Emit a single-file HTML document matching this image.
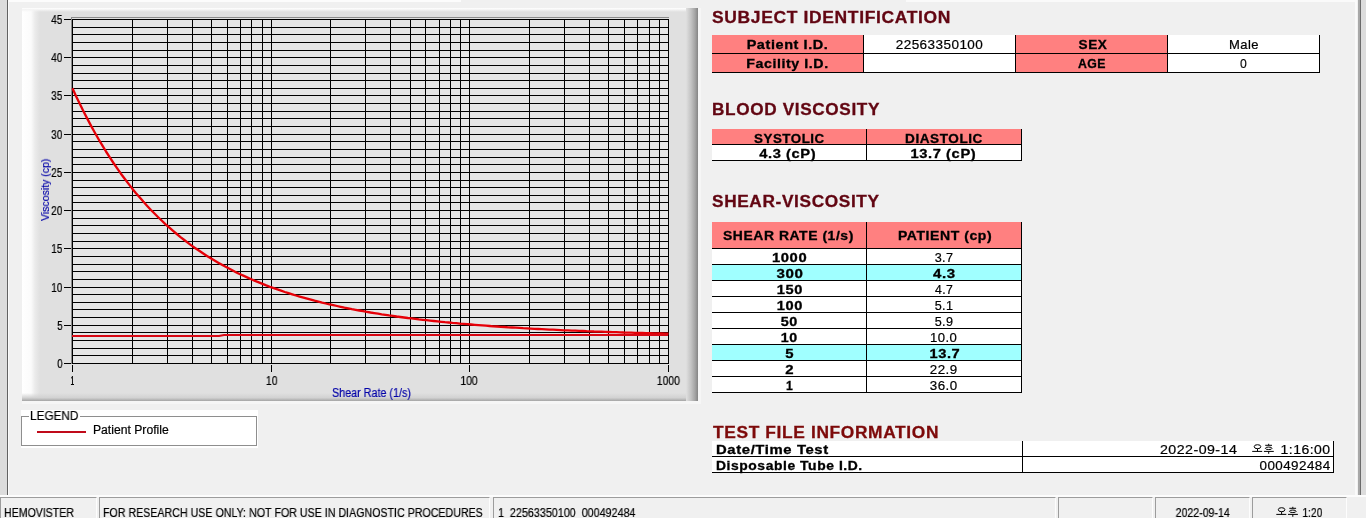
<!DOCTYPE html>
<html>
<head>
<meta charset="utf-8">
<title>Hemovister</title>
<style>
html,body{margin:0;padding:0;overflow:hidden}
html{width:1366px;height:518px;background:#f0f0f0}
body{width:1366px;height:518px;overflow:hidden;position:relative;background:#f0f0f0;font-family:"Liberation Sans",sans-serif;color:#000}
.a{position:absolute}
.t{position:absolute;white-space:nowrap;display:block;will-change:transform}
/* window chrome */
#ls{left:0;top:0;width:7px;height:495px;background:#dcdcdc}
#ll{left:7px;top:0;width:1px;height:495px;background:#626262}
#lw{left:8px;top:0;width:1px;height:496px;background:#fbfbfb}
#rw{left:1355px;top:0;width:2px;height:495px;background:#fafafa}
#rg{left:1358px;top:0;width:2px;height:495px;background:#a8a8a8}
#rd{left:1360px;top:0;width:1px;height:495px;background:#6a6a6a}
#rs{left:1361px;top:0;width:5px;height:495px;background:#dcdcdc}
#tw1{left:8px;top:0;width:453px;height:2px;background:#fcfcfc}
#tw2{left:906px;top:0;width:450px;height:2px;background:#fafafa}
/* chart panel */
#panel{left:22px;top:8px;width:676px;height:393px;background:#e0e0e0;overflow:hidden}
#pl{left:0;top:0;width:18px;height:393px;background:linear-gradient(to right,#ffffff 0,#fbfbfb 50%,#ebebeb 72%,#e0e0e0 100%)}
#pt{left:0;top:0;width:676px;height:4px;background:linear-gradient(to bottom,#ffffff 0,#f4f4f4 40%,rgba(224,224,224,0) 100%)}
#pr{right:0;top:0;width:12px;height:393px;background:linear-gradient(to right,#e0e0e0 0,#c4c4c4 40%,#a4a4a4 75%,#848484 100%)}
#pb{left:0;bottom:0;width:676px;height:8px;background:linear-gradient(to bottom,rgba(224,224,224,0) 0,#d2d2d2 60%,#a4a4a4 100%)}
/* legend */
#lgw{left:21px;top:410px;width:237px;height:38px;background:#fff}
#lgb{left:21px;top:416px;width:236px;height:30px;border:1px solid #8e8e8e;box-sizing:border-box}
#lgl{left:29px;top:410px;width:51px;height:12px;background:#fff}
#lgr{left:37px;top:430.5px;width:49px;height:2.4px;background:#c00a1a}
/* tables */
.cell{position:absolute;box-sizing:border-box;border-right:1px solid #000;border-bottom:1px solid #000;background:#fff}
.pk{background:#ff8080}
.cy{background:#a0ffff}
/* status bar */
#sbw{left:0;top:495px;width:1366px;height:2px;background:#fcfcfc}
.sp{position:absolute;top:497px;height:21px;box-sizing:border-box;border-top:1px solid #9c9c9c;border-left:1px solid #9c9c9c;border-right:1px solid #fdfdfd;background:#f0f0f0}
</style>
</head>
<body>
<div class="a" id="ls"></div><div class="a" id="ll"></div><div class="a" id="lw"></div>
<div class="a" id="rw"></div><div class="a" id="rg"></div><div class="a" id="rd"></div><div class="a" id="rs"></div>
<div class="a" id="tw1"></div><div class="a" id="tw2"></div>

<div class="a" style="left:698px;top:8px;width:3px;height:396px;background:#f6f6f6"></div><div class="a" style="left:22px;top:401px;width:679px;height:3px;background:#f6f6f6"></div>
<div class="a" id="panel">
  <div class="a" id="pl"></div><div class="a" id="pt"></div><div class="a" id="pb"></div><div class="a" id="pr"></div>
</div>
<svg id="plot" width="676" height="393" viewBox="22 8 676 393" style="position:absolute;left:22px;top:8px">
<rect x="72" y="19" width="597" height="345" fill="#e6e6e6"/>
<g stroke="#8c8c8c" stroke-width="1" shape-rendering="crispEdges"><line x1="71" y1="17.5" x2="669" y2="17.5"/><line x1="71.5" y1="17" x2="71.5" y2="364"/></g>
<g stroke="#000" stroke-width="1" shape-rendering="crispEdges"><line x1="72" y1="363.5" x2="669" y2="363.5"/><line x1="64" y1="363.5" x2="71" y2="363.5"/><line x1="72" y1="355.5" x2="669" y2="355.5"/><line x1="72" y1="348.5" x2="669" y2="348.5"/><line x1="72" y1="340.5" x2="669" y2="340.5"/><line x1="72" y1="332.5" x2="669" y2="332.5"/><line x1="72" y1="325.5" x2="669" y2="325.5"/><line x1="64" y1="325.5" x2="71" y2="325.5"/><line x1="72" y1="317.5" x2="669" y2="317.5"/><line x1="72" y1="309.5" x2="669" y2="309.5"/><line x1="72" y1="302.5" x2="669" y2="302.5"/><line x1="72" y1="294.5" x2="669" y2="294.5"/><line x1="72" y1="287.5" x2="669" y2="287.5"/><line x1="64" y1="287.5" x2="71" y2="287.5"/><line x1="72" y1="279.5" x2="669" y2="279.5"/><line x1="72" y1="271.5" x2="669" y2="271.5"/><line x1="72" y1="264.5" x2="669" y2="264.5"/><line x1="72" y1="256.5" x2="669" y2="256.5"/><line x1="72" y1="248.5" x2="669" y2="248.5"/><line x1="64" y1="248.5" x2="71" y2="248.5"/><line x1="72" y1="241.5" x2="669" y2="241.5"/><line x1="72" y1="233.5" x2="669" y2="233.5"/><line x1="72" y1="225.5" x2="669" y2="225.5"/><line x1="72" y1="218.5" x2="669" y2="218.5"/><line x1="72" y1="210.5" x2="669" y2="210.5"/><line x1="64" y1="210.5" x2="71" y2="210.5"/><line x1="72" y1="202.5" x2="669" y2="202.5"/><line x1="72" y1="195.5" x2="669" y2="195.5"/><line x1="72" y1="187.5" x2="669" y2="187.5"/><line x1="72" y1="180.5" x2="669" y2="180.5"/><line x1="72" y1="172.5" x2="669" y2="172.5"/><line x1="64" y1="172.5" x2="71" y2="172.5"/><line x1="72" y1="164.5" x2="669" y2="164.5"/><line x1="72" y1="157.5" x2="669" y2="157.5"/><line x1="72" y1="149.5" x2="669" y2="149.5"/><line x1="72" y1="141.5" x2="669" y2="141.5"/><line x1="72" y1="134.5" x2="669" y2="134.5"/><line x1="64" y1="134.5" x2="71" y2="134.5"/><line x1="72" y1="126.5" x2="669" y2="126.5"/><line x1="72" y1="118.5" x2="669" y2="118.5"/><line x1="72" y1="111.5" x2="669" y2="111.5"/><line x1="72" y1="103.5" x2="669" y2="103.5"/><line x1="72" y1="95.5" x2="669" y2="95.5"/><line x1="64" y1="95.5" x2="71" y2="95.5"/><line x1="72" y1="88.5" x2="669" y2="88.5"/><line x1="72" y1="80.5" x2="669" y2="80.5"/><line x1="72" y1="73.5" x2="669" y2="73.5"/><line x1="72" y1="65.5" x2="669" y2="65.5"/><line x1="72" y1="57.5" x2="669" y2="57.5"/><line x1="64" y1="57.5" x2="71" y2="57.5"/><line x1="72" y1="50.5" x2="669" y2="50.5"/><line x1="72" y1="42.5" x2="669" y2="42.5"/><line x1="72" y1="34.5" x2="669" y2="34.5"/><line x1="72" y1="27.5" x2="669" y2="27.5"/><line x1="72" y1="19.5" x2="669" y2="19.5"/><line x1="64" y1="19.5" x2="71" y2="19.5"/><line x1="72.5" y1="19" x2="72.5" y2="364"/><line x1="132.5" y1="19" x2="132.5" y2="364"/><line x1="167.5" y1="19" x2="167.5" y2="364"/><line x1="192.5" y1="19" x2="192.5" y2="364"/><line x1="211.5" y1="19" x2="211.5" y2="364"/><line x1="227.5" y1="19" x2="227.5" y2="364"/><line x1="240.5" y1="19" x2="240.5" y2="364"/><line x1="251.5" y1="19" x2="251.5" y2="364"/><line x1="262.5" y1="19" x2="262.5" y2="364"/><line x1="271.5" y1="19" x2="271.5" y2="364"/><line x1="330.5" y1="19" x2="330.5" y2="364"/><line x1="365.5" y1="19" x2="365.5" y2="364"/><line x1="390.5" y1="19" x2="390.5" y2="364"/><line x1="410.5" y1="19" x2="410.5" y2="364"/><line x1="425.5" y1="19" x2="425.5" y2="364"/><line x1="439.5" y1="19" x2="439.5" y2="364"/><line x1="450.5" y1="19" x2="450.5" y2="364"/><line x1="460.5" y1="19" x2="460.5" y2="364"/><line x1="469.5" y1="19" x2="469.5" y2="364"/><line x1="529.5" y1="19" x2="529.5" y2="364"/><line x1="564.5" y1="19" x2="564.5" y2="364"/><line x1="589.5" y1="19" x2="589.5" y2="364"/><line x1="608.5" y1="19" x2="608.5" y2="364"/><line x1="624.5" y1="19" x2="624.5" y2="364"/><line x1="637.5" y1="19" x2="637.5" y2="364"/><line x1="649.5" y1="19" x2="649.5" y2="364"/><line x1="659.5" y1="19" x2="659.5" y2="364"/><line x1="668.5" y1="19" x2="668.5" y2="364"/><line x1="72.5" y1="365" x2="72.5" y2="372"/><line x1="271.5" y1="365" x2="271.5" y2="372"/><line x1="469.5" y1="365" x2="469.5" y2="372"/><line x1="668.5" y1="365" x2="668.5" y2="372"/></g>
<path d="M72.5,88.3 L76.2,96.4 L80.0,104.2 L83.7,111.7 L87.4,118.9 L91.1,125.9 L94.9,132.7 L98.6,139.2 L102.3,145.4 L106.0,151.5 L109.8,157.3 L113.5,163.0 L117.2,168.4 L120.9,173.7 L124.7,178.7 L128.4,183.6 L132.1,188.4 L135.8,192.9 L139.6,197.3 L143.3,201.6 L147.0,205.7 L150.7,209.7 L154.5,213.5 L158.2,217.2 L161.9,220.8 L165.6,224.3 L169.4,227.7 L173.1,230.9 L176.8,234.0 L180.5,237.1 L184.3,240.0 L188.0,242.8 L191.7,245.6 L195.4,248.2 L199.2,250.8 L202.9,253.3 L206.6,255.7 L210.3,258.0 L214.1,260.3 L217.8,262.5 L221.5,264.6 L225.2,266.6 L229.0,268.6 L232.7,270.5 L236.4,272.4 L240.1,274.2 L243.9,275.9 L247.6,277.6 L251.3,279.3 L255.0,280.9 L258.8,282.4 L262.5,283.9 L266.2,285.4 L269.9,286.8 L273.7,288.1 L277.4,289.4 L281.1,290.7 L284.8,292.0 L288.6,293.2 L292.3,294.3 L296.0,295.5 L299.7,296.6 L303.5,297.7 L307.2,298.7 L310.9,299.7 L314.6,300.7 L318.4,301.6 L322.1,302.6 L325.8,303.5 L329.5,304.3 L333.3,305.2 L337.0,306.0 L340.7,306.8 L344.4,307.6 L348.2,308.3 L351.9,309.1 L355.6,309.8 L359.3,310.5 L363.1,311.2 L366.8,311.8 L370.5,312.5 L374.2,313.1 L378.0,313.7 L381.7,314.3 L385.4,314.8 L389.1,315.4 L392.9,315.9 L396.6,316.5 L400.3,317.0 L404.0,317.5 L407.8,318.0 L411.5,318.4 L415.2,318.9 L418.9,319.4 L422.7,319.8 L426.4,320.2 L430.1,320.6 L433.8,321.0 L437.6,321.4 L441.3,321.8 L445.0,322.2 L448.7,322.5 L452.5,322.9 L456.2,323.2 L459.9,323.6 L463.6,323.9 L467.4,324.2 L471.1,324.5 L474.8,324.8 L478.5,325.1 L482.3,325.4 L486.0,325.7 L489.7,326.0 L493.4,326.3 L497.2,326.5 L500.9,326.8 L504.6,327.0 L508.3,327.3 L512.1,327.5 L515.8,327.7 L519.5,327.9 L523.2,328.2 L527.0,328.4 L530.7,328.6 L534.4,328.8 L538.1,329.0 L541.9,329.2 L545.6,329.4 L549.3,329.6 L553.0,329.7 L556.8,329.9 L560.5,330.1 L564.2,330.3 L567.9,330.4 L571.7,330.6 L575.4,330.7 L579.1,330.9 L582.8,331.0 L586.6,331.2 L590.3,331.3 L594.0,331.5 L597.7,331.6 L601.5,331.7 L605.2,331.9 L608.9,332.0 L612.6,332.1 L616.4,332.2 L620.1,332.3 L623.8,332.5 L627.5,332.6 L631.3,332.7 L635.0,332.8 L638.7,332.9 L642.4,333.0 L646.2,333.1 L649.9,333.2 L653.6,333.3 L657.3,333.4 L661.1,333.5 L664.8,333.6 L668.5,333.6" fill="none" stroke="#e60008" stroke-width="2.3" stroke-linejoin="round"/>
<path d="M72,336.0 L219,336.0 L224,335.0 L668,335.0" fill="none" stroke="#d80814" stroke-width="2"/>
</svg>
<span class="t" style="left:38.2px;top:221.3px;font-size:11.5px;line-height:14px;color:#0000a8;-webkit-text-stroke:0.2px;transform-origin:0 0;transform:rotate(-90deg) scaleX(0.915)">Viscosity&nbsp;(cp)</span>

<div class="a" id="lgw"></div><div class="a" id="lgb"></div><div class="a" id="lgl"></div><div class="a" id="lgr"></div>

<!-- table 1 -->
<div class="cell pk" style="left:712px;top:35px;width:152px;height:19px"></div>
<div class="cell" style="left:864px;top:35px;width:152px;height:19px"></div>
<div class="cell pk" style="left:1016px;top:35px;width:152px;height:19px"></div>
<div class="cell" style="left:1168px;top:35px;width:152px;height:19px"></div>
<div class="cell pk" style="left:712px;top:54px;width:152px;height:19px"></div>
<div class="cell" style="left:864px;top:54px;width:152px;height:19px"></div>
<div class="cell pk" style="left:1016px;top:54px;width:152px;height:19px"></div>
<div class="cell" style="left:1168px;top:54px;width:152px;height:19px"></div>
<!-- table 2 -->
<div class="cell pk" style="left:712px;top:129px;width:155px;height:16px"></div>
<div class="cell pk" style="left:867px;top:129px;width:155px;height:16px"></div>
<div class="cell" style="left:712px;top:145px;width:155px;height:16px"></div>
<div class="cell" style="left:867px;top:145px;width:155px;height:16px"></div>
<!-- table 3 -->
<div class="cell pk" style="left:712px;top:222px;width:155px;height:27px"></div>
<div class="cell pk" style="left:867px;top:222px;width:155px;height:27px"></div>
<div class="cell" style="left:712px;top:249px;width:155px;height:16px"></div><div class="cell" style="left:867px;top:249px;width:155px;height:16px"></div>
<div class="cell cy" style="left:712px;top:265px;width:155px;height:16px"></div><div class="cell cy" style="left:867px;top:265px;width:155px;height:16px"></div>
<div class="cell" style="left:712px;top:281px;width:155px;height:16px"></div><div class="cell" style="left:867px;top:281px;width:155px;height:16px"></div>
<div class="cell" style="left:712px;top:297px;width:155px;height:16px"></div><div class="cell" style="left:867px;top:297px;width:155px;height:16px"></div>
<div class="cell" style="left:712px;top:313px;width:155px;height:16px"></div><div class="cell" style="left:867px;top:313px;width:155px;height:16px"></div>
<div class="cell" style="left:712px;top:329px;width:155px;height:16px"></div><div class="cell" style="left:867px;top:329px;width:155px;height:16px"></div>
<div class="cell cy" style="left:712px;top:345px;width:155px;height:16px"></div><div class="cell cy" style="left:867px;top:345px;width:155px;height:16px"></div>
<div class="cell" style="left:712px;top:361px;width:155px;height:16px"></div><div class="cell" style="left:867px;top:361px;width:155px;height:16px"></div>
<div class="cell" style="left:712px;top:377px;width:155px;height:16px"></div><div class="cell" style="left:867px;top:377px;width:155px;height:16px"></div>
<!-- table 4 -->
<div class="cell" style="left:712px;top:441px;width:311px;height:16px"></div>
<div class="cell" style="left:1023px;top:441px;width:311px;height:16px"></div>
<div class="cell" style="left:712px;top:457px;width:311px;height:16px"></div>
<div class="cell" style="left:1023px;top:457px;width:311px;height:16px"></div>

<!-- status bar -->
<div class="a" id="sbw"></div>
<div class="sp" style="left:0;width:97px"></div>
<div class="sp" style="left:99px;width:391px"></div>
<div class="sp" style="left:493px;width:563px"></div>
<div class="sp" style="left:1058px;width:95px"></div>
<div class="sp" style="left:1155px;width:95px"></div>
<div class="sp" style="left:1252px;width:95px"></div>

<span class="t" style="left:712.00px;top:8.16px;font-size:16px;line-height:20px;transform:scaleX(1.0909);transform-origin:0 0;font-weight:bold;-webkit-text-stroke:0.3px;letter-spacing:0.6px;color:#620612;">SUBJECT&nbsp;IDENTIFICATION</span>
<span class="t" style="left:712.00px;top:100.36px;font-size:16px;line-height:20px;transform:scaleX(1.0732);transform-origin:0 0;font-weight:bold;-webkit-text-stroke:0.3px;letter-spacing:0.6px;color:#620612;">BLOOD&nbsp;VISCOSITY</span>
<span class="t" style="left:712.00px;top:192.26px;font-size:16px;line-height:20px;transform:scaleX(1.0768);transform-origin:0 0;font-weight:bold;-webkit-text-stroke:0.3px;letter-spacing:0.6px;color:#620612;">SHEAR-VISCOSITY</span>
<span class="t" style="left:713.00px;top:422.76px;font-size:16px;line-height:20px;transform:scaleX(1.0830);transform-origin:0 0;font-weight:bold;-webkit-text-stroke:0.3px;letter-spacing:0.6px;color:#7d0a0a;">TEST&nbsp;FILE&nbsp;INFORMATION</span>
<span class="t" style="left:753.26px;top:37.97px;font-size:12.2px;line-height:15px;transform:scaleX(1.1857);transform-origin:34.24px 0;font-weight:bold;-webkit-text-stroke:0.3px;letter-spacing:0.5px;">Patient&nbsp;I.D.</span>
<span class="t" style="left:752.33px;top:56.97px;font-size:12.2px;line-height:15px;transform:scaleX(1.1629);transform-origin:35.17px 0;font-weight:bold;-webkit-text-stroke:0.3px;letter-spacing:0.5px;">Facility&nbsp;I.D.</span>
<span class="t" style="left:900.22px;top:37.97px;font-size:12.2px;line-height:15px;transform:scaleX(1.1086);transform-origin:39.28px 0;-webkit-text-stroke:0.2px;letter-spacing:0.4px;">22563350100</span>
<span class="t" style="left:1079.60px;top:37.97px;font-size:12.2px;line-height:15px;transform:scaleX(1.1106);transform-origin:12.70px 0;font-weight:bold;-webkit-text-stroke:0.3px;letter-spacing:0.5px;">SEX</span>
<span class="t" style="left:1077.79px;top:56.97px;font-size:12.2px;line-height:15px;transform:scaleX(1.0065);transform-origin:13.71px 0;font-weight:bold;-webkit-text-stroke:0.3px;letter-spacing:0.5px;">AGE</span>
<span class="t" style="left:1229.98px;top:37.97px;font-size:12.2px;line-height:15px;transform:scaleX(1.0676);transform-origin:13.82px 0;-webkit-text-stroke:0.2px;letter-spacing:0.4px;">Male</span>
<span class="t" style="left:1240.31px;top:56.97px;font-size:12.2px;line-height:15px;transform:scaleX(0.9724);transform-origin:3.39px 0;-webkit-text-stroke:0.2px;letter-spacing:0.4px;">0</span>
<span class="t" style="left:757.18px;top:131.97px;font-size:12.2px;line-height:15px;transform:scaleX(1.0929);transform-origin:32.12px 0;font-weight:bold;-webkit-text-stroke:0.3px;letter-spacing:0.5px;">SYSTOLIC</span>
<span class="t" style="left:909.27px;top:131.97px;font-size:12.2px;line-height:15px;transform:scaleX(1.1127);transform-origin:34.73px 0;font-weight:bold;-webkit-text-stroke:0.3px;letter-spacing:0.5px;">DIASTOLIC</span>
<span class="t" style="left:763.77px;top:147.07px;font-size:12.2px;line-height:15px;transform:scaleX(1.2036);transform-origin:23.43px 0;font-weight:bold;-webkit-text-stroke:0.3px;letter-spacing:0.5px;">4.3&nbsp;(cP)</span>
<span class="t" style="left:915.83px;top:147.07px;font-size:12.2px;line-height:15px;transform:scaleX(1.2043);transform-origin:27.07px 0;font-weight:bold;-webkit-text-stroke:0.3px;letter-spacing:0.5px;">13.7&nbsp;(cP)</span>
<span class="t" style="left:731.37px;top:229.37px;font-size:12.2px;line-height:15px;transform:scaleX(1.1403);transform-origin:57.13px 0;font-weight:bold;-webkit-text-stroke:0.3px;letter-spacing:0.5px;">SHEAR&nbsp;RATE&nbsp;(1/s)</span>
<span class="t" style="left:903.52px;top:229.37px;font-size:12.2px;line-height:15px;transform:scaleX(1.1476);transform-origin:40.78px 0;font-weight:bold;-webkit-text-stroke:0.3px;letter-spacing:0.5px;">PATIENT&nbsp;(cp)</span>
<span class="t" style="left:774.99px;top:251.37px;font-size:12.2px;line-height:15px;transform:scaleX(1.2087);transform-origin:14.31px 0;font-weight:bold;-webkit-text-stroke:0.3px;letter-spacing:0.5px;">1000</span>
<span class="t" style="left:935.02px;top:251.37px;font-size:12.2px;line-height:15px;transform:scaleX(1.0363);transform-origin:8.88px 0;-webkit-text-stroke:0.2px;letter-spacing:0.4px;">3.7</span>
<span class="t" style="left:778.63px;top:267.37px;font-size:12.2px;line-height:15px;transform:scaleX(1.2369);transform-origin:10.67px 0;font-weight:bold;-webkit-text-stroke:0.3px;letter-spacing:0.5px;">300</span>
<span class="t" style="left:935.32px;top:267.37px;font-size:12.2px;line-height:15px;transform:scaleX(1.2310);transform-origin:8.98px 0;font-weight:bold;-webkit-text-stroke:0.3px;letter-spacing:0.5px;">4.3</span>
<span class="t" style="left:778.63px;top:283.37px;font-size:12.2px;line-height:15px;transform:scaleX(1.1994);transform-origin:10.67px 0;font-weight:bold;-webkit-text-stroke:0.3px;letter-spacing:0.5px;">150</span>
<span class="t" style="left:935.02px;top:283.37px;font-size:12.2px;line-height:15px;transform:scaleX(1.0025);transform-origin:8.88px 0;-webkit-text-stroke:0.2px;letter-spacing:0.4px;">4.7</span>
<span class="t" style="left:778.63px;top:299.37px;font-size:12.2px;line-height:15px;transform:scaleX(1.1994);transform-origin:10.67px 0;font-weight:bold;-webkit-text-stroke:0.3px;letter-spacing:0.5px;">100</span>
<span class="t" style="left:935.02px;top:299.37px;font-size:12.2px;line-height:15px;transform:scaleX(1.0363);transform-origin:8.88px 0;-webkit-text-stroke:0.2px;letter-spacing:0.4px;">5.1</span>
<span class="t" style="left:782.27px;top:315.37px;font-size:12.2px;line-height:15px;transform:scaleX(1.1804);transform-origin:7.03px 0;font-weight:bold;-webkit-text-stroke:0.3px;letter-spacing:0.5px;">50</span>
<span class="t" style="left:935.02px;top:315.37px;font-size:12.2px;line-height:15px;transform:scaleX(1.0363);transform-origin:8.88px 0;-webkit-text-stroke:0.2px;letter-spacing:0.4px;">5.9</span>
<span class="t" style="left:782.27px;top:331.37px;font-size:12.2px;line-height:15px;transform:scaleX(1.1662);transform-origin:7.03px 0;font-weight:bold;-webkit-text-stroke:0.3px;letter-spacing:0.5px;">10</span>
<span class="t" style="left:931.44px;top:331.37px;font-size:12.2px;line-height:15px;transform:scaleX(1.0751);transform-origin:12.46px 0;-webkit-text-stroke:0.2px;letter-spacing:0.4px;">10.0</span>
<span class="t" style="left:785.91px;top:347.37px;font-size:12.2px;line-height:15px;transform:scaleX(1.2240);transform-origin:3.39px 0;font-weight:bold;-webkit-text-stroke:0.3px;letter-spacing:0.5px;">5</span>
<span class="t" style="left:931.68px;top:347.37px;font-size:12.2px;line-height:15px;transform:scaleX(1.2007);transform-origin:12.62px 0;font-weight:bold;-webkit-text-stroke:0.3px;letter-spacing:0.5px;">13.7</span>
<span class="t" style="left:785.91px;top:363.37px;font-size:12.2px;line-height:15px;transform:scaleX(1.2240);transform-origin:3.39px 0;font-weight:bold;-webkit-text-stroke:0.3px;letter-spacing:0.5px;">2</span>
<span class="t" style="left:931.44px;top:363.37px;font-size:12.2px;line-height:15px;transform:scaleX(1.0951);transform-origin:12.46px 0;-webkit-text-stroke:0.2px;letter-spacing:0.4px;">22.9</span>
<span class="t" style="left:785.91px;top:379.37px;font-size:12.2px;line-height:15px;transform:scaleX(0.9880);transform-origin:3.39px 0;font-weight:bold;-webkit-text-stroke:0.3px;letter-spacing:0.5px;">1</span>
<span class="t" style="left:931.44px;top:379.37px;font-size:12.2px;line-height:15px;transform:scaleX(1.0951);transform-origin:12.46px 0;-webkit-text-stroke:0.2px;letter-spacing:0.4px;">36.0</span>
<span class="t" style="left:715.80px;top:443.07px;font-size:12.2px;line-height:15px;transform:scaleX(1.2185);transform-origin:0 0;font-weight:bold;-webkit-text-stroke:0.3px;letter-spacing:0.5px;">Date/Time&nbsp;Test</span>
<span class="t" style="left:715.80px;top:458.97px;font-size:12.2px;line-height:15px;transform:scaleX(1.1380);transform-origin:0 0;font-weight:bold;-webkit-text-stroke:0.3px;letter-spacing:0.5px;">Disposable&nbsp;Tube&nbsp;I.D.</span>
<span class="t" style="left:1159.70px;top:443.17px;font-size:12.2px;line-height:15px;transform:scaleX(1.1646);transform-origin:0 0;-webkit-text-stroke:0.2px;letter-spacing:0.4px;">2022-09-14</span>
<span class="t" style="left:1287.13px;top:443.17px;font-size:12.2px;line-height:15px;transform:scaleX(1.1493);transform-origin:43.07px 0;-webkit-text-stroke:0.2px;letter-spacing:0.4px;">1:16:00</span>
<span class="t" style="left:1265.99px;top:459.17px;font-size:12.2px;line-height:15px;transform:scaleX(1.1011);transform-origin:64.21px 0;-webkit-text-stroke:0.2px;letter-spacing:0.4px;">000492484</span>
<span class="t" style="left:55.51px;top:357.14px;font-size:12px;line-height:15px;transform:scaleX(0.8075);transform-origin:6.69px 0;-webkit-text-stroke:0.2px;">0</span>
<span class="t" style="left:55.51px;top:319.14px;font-size:12px;line-height:15px;transform:scaleX(0.8075);transform-origin:6.69px 0;-webkit-text-stroke:0.2px;">5</span>
<span class="t" style="left:48.84px;top:281.14px;font-size:12px;line-height:15px;transform:scaleX(0.8384);transform-origin:13.36px 0;-webkit-text-stroke:0.2px;">10</span>
<span class="t" style="left:48.84px;top:242.14px;font-size:12px;line-height:15px;transform:scaleX(0.8384);transform-origin:13.36px 0;-webkit-text-stroke:0.2px;">15</span>
<span class="t" style="left:48.84px;top:204.14px;font-size:12px;line-height:15px;transform:scaleX(0.8384);transform-origin:13.36px 0;-webkit-text-stroke:0.2px;">20</span>
<span class="t" style="left:48.84px;top:166.14px;font-size:12px;line-height:15px;transform:scaleX(0.8384);transform-origin:13.36px 0;-webkit-text-stroke:0.2px;">25</span>
<span class="t" style="left:48.84px;top:128.14px;font-size:12px;line-height:15px;transform:scaleX(0.8384);transform-origin:13.36px 0;-webkit-text-stroke:0.2px;">30</span>
<span class="t" style="left:48.84px;top:89.14px;font-size:12px;line-height:15px;transform:scaleX(0.8384);transform-origin:13.36px 0;-webkit-text-stroke:0.2px;">35</span>
<span class="t" style="left:48.84px;top:51.14px;font-size:12px;line-height:15px;transform:scaleX(0.8384);transform-origin:13.36px 0;-webkit-text-stroke:0.2px;">40</span>
<span class="t" style="left:48.84px;top:13.14px;font-size:12px;line-height:15px;transform:scaleX(0.8384);transform-origin:13.36px 0;-webkit-text-stroke:0.2px;">45</span>
<span class="t" style="left:69.16px;top:374.24px;font-size:12px;line-height:15px;transform:scaleX(0.5234);transform-origin:3.34px 0;-webkit-text-stroke:0.2px;">1</span>
<span class="t" style="left:264.82px;top:374.24px;font-size:12px;line-height:15px;transform:scaleX(0.8758);transform-origin:6.68px 0;-webkit-text-stroke:0.2px;">10</span>
<span class="t" style="left:459.48px;top:374.24px;font-size:12px;line-height:15px;transform:scaleX(0.8587);transform-origin:10.02px 0;-webkit-text-stroke:0.2px;">100</span>
<span class="t" style="left:655.05px;top:374.24px;font-size:12px;line-height:15px;transform:scaleX(0.8688);transform-origin:13.35px 0;-webkit-text-stroke:0.2px;">1000</span>
<span class="t" style="left:331.70px;top:386.14px;font-size:12px;line-height:15px;transform:scaleX(0.8972);transform-origin:0 0;-webkit-text-stroke:0.2px;color:#0000a8;">Shear&nbsp;Rate&nbsp;(1/s)</span>
<span class="t" style="left:30.40px;top:409.04px;font-size:12px;line-height:15px;transform:scaleX(0.9806);transform-origin:0 0;-webkit-text-stroke:0.2px;">LEGEND</span>
<span class="t" style="left:93.40px;top:422.84px;font-size:12px;line-height:15px;transform:scaleX(1.0131);transform-origin:0 0;-webkit-text-stroke:0.2px;">Patient&nbsp;Profile</span>
<span class="t" style="left:4.20px;top:506.04px;font-size:12px;line-height:15px;transform:scaleX(0.8810);transform-origin:0 0;-webkit-text-stroke:0.2px;">HEMOVISTER</span>
<span class="t" style="left:103.40px;top:506.04px;font-size:12px;line-height:15px;transform:scaleX(0.8877);transform-origin:0 0;-webkit-text-stroke:0.2px;">FOR&nbsp;RESEARCH&nbsp;USE&nbsp;ONLY:&nbsp;NOT&nbsp;FOR&nbsp;USE&nbsp;IN&nbsp;DIAGNOSTIC&nbsp;PROCEDURES</span>
<span class="t" style="left:497.70px;top:506.04px;font-size:12px;line-height:15px;transform:scaleX(0.8958);transform-origin:0 0;-webkit-text-stroke:0.2px;">1&nbsp;&nbsp;22563350100&nbsp;&nbsp;000492484</span>
<span class="t" style="left:1171.90px;top:506.04px;font-size:12px;line-height:15px;transform:scaleX(0.8812);transform-origin:30.70px 0;-webkit-text-stroke:0.2px;">2022-09-14</span>
<span class="t" style="left:1299.04px;top:506.04px;font-size:12px;line-height:15px;transform:scaleX(0.8562);transform-origin:23.36px 0;-webkit-text-stroke:0.2px;">1:20</span>
<svg class="a" width="1366" height="518" viewBox="0 0 1366 518" style="left:0;top:0;pointer-events:none"><g fill="none" stroke="#000" stroke-width="1.0"><ellipse cx="1257.50" cy="446.70" rx="3.3" ry="2.0"/><path d="M1257.50,448.70 V451.40 M1252.20,451.40 H1262.20"/><path d="M1268.70,443.80 V445.20 M1265.20,445.30 H1272.00"/><ellipse cx="1268.70" cy="448.30" rx="3.3" ry="1.25"/><path d="M1263.90,451.40 H1273.80 M1268.70,451.40 V453.80"/></g><g fill="none" stroke="#000" stroke-width="1.0"><ellipse cx="1281.60" cy="509.70" rx="3.3" ry="2.0"/><path d="M1281.60,511.70 V514.40 M1276.30,514.40 H1286.30"/><path d="M1292.80,506.80 V508.20 M1289.30,508.30 H1296.10"/><ellipse cx="1292.80" cy="511.30" rx="3.3" ry="1.25"/><path d="M1288.00,514.40 H1297.90 M1292.80,514.40 V516.80"/></g></svg>
</body>
</html>
